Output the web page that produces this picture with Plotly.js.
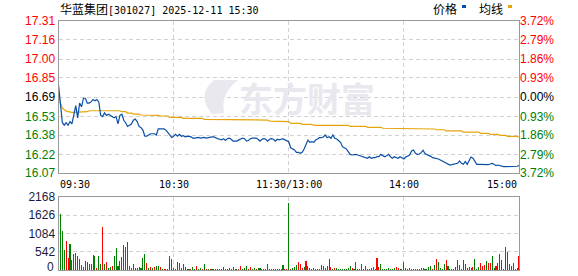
<!DOCTYPE html>
<html>
<head>
<meta charset="utf-8">
<script src="https://cdn.plot.ly/plotly-3.0.1.min.js"></script>
<style>html,body{margin:0;padding:0;background:#fff;overflow:hidden;}#chart{width:578px;height:276px;}</style>
</head>
<body>
<div id="chart"></div>
<script>
// ---- data ----
const stockName = "华蓝集团";
const stockCode = "[301027] 2025-12-11 15:30";
const prevClose = 16.69;
const timeLabels = ["09:30", "10:30", "11:30/13:00", "14:00", "15:00"];
const timeLabelMinutes = [0, 60, 120, 180, 240];
const priceTicks = [17.31, 17.16, 17.00, 16.85, 16.69, 16.53, 16.38, 16.22, 16.07];
const priceTickText = ["17.31", "17.16", "17.00", "16.85", "16.69", "16.53", "16.38", "16.22", "16.07"];
const pctTickText = ["3.72%", "2.79%", "1.86%", "0.93%", "0.00%", "0.93%", "1.86%", "2.79%", "3.72%"];
const tickSide = ["u", "u", "u", "u", "0", "d", "d", "d", "d"];
const volTicks = [0, 542, 1084, 1626, 2168];
const volTickText = ["0", "542", "1084", "1626", "2168"];

const price = [
16.79,16.60,16.48,16.46,16.48,16.46,16.49,16.47,16.55,16.62,
16.52,16.64,16.61,16.68,16.68,16.64,16.64,16.65,16.67,16.66,
16.67,16.65,16.54,16.53,16.56,16.54,16.55,16.54,16.53,16.52,
16.53,16.47,16.54,16.55,16.50,16.48,16.45,16.46,16.47,16.50,
16.51,16.49,16.45,16.44,16.42,16.37,16.37,16.38,16.39,16.39,
16.39,16.38,16.43,16.43,16.43,16.43,16.42,16.40,16.38,16.36,
16.37,16.385,16.37,16.385,16.37,16.375,16.365,16.37,16.37,16.365,
16.355,16.355,16.36,16.36,16.355,16.36,16.36,16.355,16.36,16.36,
16.365,16.365,16.355,16.35,16.345,16.34,16.35,16.335,16.35,16.355,
16.345,16.33,16.33,16.33,16.34,16.35,16.355,16.35,16.33,16.335,
16.35,16.355,16.355,16.355,16.345,16.33,16.345,16.35,16.345,16.33,
16.345,16.35,16.345,16.33,16.345,16.34,16.345,16.35,16.34,16.335,
16.325,16.276,16.27,16.258,16.239,16.239,16.231,16.239,16.266,16.30,
16.339,16.32,16.325,16.32,16.339,16.347,16.358,16.358,16.364,16.38,
16.358,16.366,16.353,16.38,16.353,16.347,16.331,16.32,16.285,16.276,
16.266,16.244,16.222,16.217,16.222,16.222,16.217,16.211,16.211,16.203,
16.195,16.19,16.203,16.19,16.195,16.195,16.203,16.203,16.222,16.211,
16.203,16.211,16.222,16.203,16.19,16.203,16.195,16.19,16.203,16.19,
16.184,16.20,16.211,16.217,16.25,16.258,16.231,16.222,16.225,16.236,
16.255,16.228,16.22,16.214,16.206,16.195,16.192,16.19,16.184,16.176,
16.168,16.157,16.149,16.141,16.135,16.138,16.143,16.149,16.149,16.168,
16.149,16.141,16.163,16.141,16.173,16.20,16.19,16.163,16.141,16.141,
16.141,16.141,16.141,16.135,16.138,16.143,16.149,16.141,16.13,16.135,
16.13,16.125,16.122,16.122,16.122,16.122,16.122,16.122,16.122,16.125,
16.13
];

const avgPrice = [
16.73,16.64,16.60,16.585,16.575,16.57,16.565,16.565,16.565,16.565,
16.565,16.57,16.57,16.57,16.57,16.57,16.578,16.578,16.578,16.578,
16.584,16.584,16.584,16.584,16.584,16.584,16.584,16.584,16.584,16.578,
16.578,16.578,16.578,16.57,16.57,16.57,16.559,16.559,16.559,16.551,
16.551,16.551,16.551,16.543,16.543,16.543,16.543,16.543,16.54,16.54,
16.54,16.54,16.54,16.535,16.535,16.535,16.535,16.535,16.524,16.524,
16.524,16.524,16.524,16.524,16.524,16.516,16.516,16.516,16.516,16.516,
16.516,16.516,16.516,16.516,16.516,16.516,16.508,16.508,16.508,16.508,
16.508,16.508,16.508,16.508,16.508,16.508,16.508,16.508,16.508,16.508,
16.508,16.508,16.502,16.502,16.502,16.502,16.502,16.502,16.502,16.502,
16.502,16.502,16.502,16.502,16.502,16.502,16.502,16.502,16.502,16.502,
16.494,16.494,16.494,16.494,16.494,16.494,16.494,16.494,16.494,16.494,
16.489,16.475,16.475,16.475,16.475,16.475,16.475,16.467,16.467,16.467,
16.467,16.467,16.467,16.459,16.459,16.459,16.459,16.459,16.459,16.459,
16.459,16.459,16.459,16.459,16.459,16.459,16.459,16.459,16.459,16.459,
16.459,16.459,16.451,16.451,16.451,16.451,16.451,16.451,16.451,16.451,
16.451,16.443,16.443,16.443,16.443,16.443,16.443,16.443,16.443,16.435,
16.435,16.435,16.435,16.435,16.435,16.435,16.435,16.435,16.435,16.435,
16.435,16.429,16.429,16.429,16.429,16.429,16.429,16.429,16.429,16.429,
16.429,16.429,16.429,16.429,16.429,16.429,16.429,16.423,16.423,16.423,
16.423,16.423,16.413,16.413,16.413,16.413,16.413,16.413,16.413,16.413,
16.413,16.404,16.404,16.404,16.404,16.404,16.404,16.404,16.404,16.404,
16.394,16.394,16.394,16.394,16.394,16.385,16.385,16.385,16.385,16.385,
16.377,16.377,16.377,16.377,16.369,16.369,16.369,16.369,16.369,16.369,
16.361
];

const volume = [
0,1650,1170,590,850,360,780,290,470,510,
410,320,150,80,260,230,180,180,440,410,
50,410,180,1270,180,240,50,80,120,410,
650,120,270,390,730,680,830,120,50,180,
50,50,80,50,370,470,220,50,80,50,
100,120,120,80,30,30,30,30,410,340,
50,30,250,220,50,180,80,30,30,30,
80,30,120,30,50,30,180,30,30,30,
30,30,30,30,30,30,80,30,30,50,
30,100,30,30,30,120,30,50,120,30,
80,30,50,30,50,50,30,30,30,180,
30,30,30,30,30,30,30,150,30,30,
2000,30,50,80,150,240,180,50,80,270,
120,50,30,50,30,30,30,150,120,50,
120,320,80,30,50,50,30,30,30,30,
30,60,120,50,30,240,30,30,180,30,
120,30,30,50,80,30,370,80,180,30,
30,30,50,30,30,50,100,50,30,30,
240,50,30,50,30,30,30,30,30,50,
50,30,30,80,120,30,150,330,230,50,
30,180,290,120,30,30,30,80,290,150,
30,290,180,50,80,50,80,320,30,80,
220,130,150,270,220,220,410,50,120,220,
470,290,30,680,540,180,120,220,30,50,
410
];

// u = minute closed up (red), d = down (green)
const volDir = [
'd','d','d','d','u','u','d','u','u','d',
'd','u','d','u','u','d','u','u','u','d',
'u','d','d','u','d','u','d','d','u','d',
'd','d','u','d','d','u','d','u','d','u',
'd','d','u','d','d','d','u','d','u','d',
'u','d','d','u','d','u','d','d','d','d',
'u','d','d','u','d','u','d','u','d','u',
'd','d','u','d','d','u','d','u','d','u',
'd','u','d','u','d','u','d','u','d','d',
'u','d','u','d','u','u','d','d','d','u',
'u','d','d','u','d','d','u','d','u','u',
'd','u','d','d','u','d','u','d','u','u',
'd','u','d','d','d','u','u','u','d','u',
'd','u','d','u','u','d','d','u','u','d',
'd','d','u','d','u','d','d','d','d','d',
'd','d','d','u','d','u','d','d','u','d',
'd','d','d','u','u','d','u','u','d','d',
'd','d','d','d','d','d','u','u','d','d',
'u','u','d','u','d','d','d','d','u','u',
'u','d','d','d','d','u','d','u','d','d',
'd','d','u','d','d','u','d','u','u','d',
'u','d','d','d','d','u','u','d','d','d',
'u','u','u','d','u','u','d','d','u','d',
'd','u','u','d','u','u','d','u','d','d',
'u'
];

// ---- styling ----
const UP = "#ff0000", DOWN = "#008000", FLAT = "#000000";
const minutes = price.map((_, i) => i);
const colorOf = s => s === "u" ? UP : (s === "d" ? DOWN : FLAT);
const span = (t, c) => '<span style="color:' + c + '">' + t + '</span>';

const W = 578, H = 276;
const px = v => v / W, py = v => (H - v) / H;
const xDom = [px(58.5), px(519)];
const gridC = "#d2d2d2", frameC = "#999999";
const numFont = {family: "Liberation Sans, Arial, sans-serif", size: 12, color: "#000"};
const volFont = {family: "Liberation Sans, Arial, sans-serif", size: 12, color: "#1a1a40"};
const monoFont = {family: "DejaVu Sans Mono, monospace", size: 10, color: "#000"};
const wmC = "#e8e8ee";

const traces = [
  {x: minutes, y: avgPrice, type: "scatter", mode: "lines", xaxis: "x", yaxis: "y",
   line: {color: "#e5a50a", width: 1.2, shape: "linear"}, hoverinfo: "skip"},
  {x: minutes, y: price, type: "scatter", mode: "lines", xaxis: "x", yaxis: "y",
   line: {color: "#0a4fa6", width: 1.2}, hoverinfo: "skip"},
  {x: [minutes[0]], y: [prevClose], type: "scatter", mode: "markers", xaxis: "x", yaxis: "y3",
   marker: {opacity: 0}, hoverinfo: "skip"},
  {x: minutes, y: volume, type: "bar", xaxis: "x2", yaxis: "y2", width: 0.55,
   marker: {color: volDir.map(colorOf), line: {width: 0}}, hoverinfo: "skip"}
];

const layout = {
  width: W, height: H,
  margin: {l: 0, r: 0, t: 0, b: 0},
  paper_bgcolor: "#fff", plot_bgcolor: "rgba(0,0,0,0)",
  showlegend: false, bargap: 0,
  xaxis: {domain: xDom, range: [0, 240], anchor: "y", tickvals: [60, 120, 180],
    showticklabels: false, ticks: "", showgrid: true, gridcolor: gridC, griddash: "4px,3px",
    gridwidth: 1, zeroline: false, showline: true, mirror: true, linecolor: frameC, linewidth: 1},
  yaxis: {domain: [py(173), py(21)], range: [priceTicks[8], priceTicks[0]], anchor: "x",
    tickvals: priceTicks, ticktext: priceTickText.map((t, i) => span(t, colorOf(tickSide[i]))),
    ticks: "", tickfont: numFont, showgrid: true, gridcolor: gridC, griddash: "4px,3px",
    zeroline: false, showline: true, mirror: true, linecolor: frameC, linewidth: 1,
    ticklabeloverflow: "allow"},
  yaxis3: {overlaying: "y", side: "right", anchor: "x", range: [priceTicks[8], priceTicks[0]],
    tickvals: priceTicks, ticktext: pctTickText.map((t, i) => span(t, colorOf(tickSide[i]))),
    ticks: "", tickfont: numFont, showgrid: false, zeroline: false, showline: false,
    ticklabeloverflow: "allow"},
  xaxis2: {domain: xDom, range: [0, 240], anchor: "y2", tickvals: [60, 120, 180],
    showticklabels: false, ticks: "", showgrid: true, gridcolor: gridC, griddash: "4px,3px",
    zeroline: false, showline: true, mirror: true, linecolor: frameC, linewidth: 1},
  yaxis2: {domain: [py(270), py(197)], range: [volTicks[0], volTicks[4]], anchor: "x2",
    tickvals: volTicks.slice(1), ticktext: volTickText.slice(1), ticks: "", tickfont: volFont,
    showgrid: true, gridcolor: gridC, griddash: "4px,3px", ticklabeloverflow: "allow",
    zeroline: false, showline: true, mirror: true, linecolor: frameC, linewidth: 1},
  annotations: [
    {xref: "paper", yref: "paper", x: px(58), y: py(8.5), xanchor: "left", yanchor: "middle", showarrow: false,
     text: '<span style="font-family:Noto Sans CJK SC;font-size:12px">' + stockName + '</span>' + stockCode, font: monoFont},
    {xref: "paper", yref: "paper", x: px(431), y: py(8.5), xanchor: "left", yanchor: "middle", showarrow: false,
     text: "价格", font: {family: "Noto Sans CJK SC", size: 12, color: "#000"}},
    {xref: "paper", yref: "paper", x: px(477), y: py(8.5), xanchor: "left", yanchor: "middle", showarrow: false,
     text: "均线", font: {family: "Noto Sans CJK SC", size: 12, color: "#000"}},
    {xref: "paper", yref: "paper", x: px(307), y: py(97), xanchor: "center", yanchor: "middle", showarrow: false,
     text: "<b>东方财富</b>", font: {family: "Noto Sans CJK SC", size: 34, color: wmC}},
    {xref: "paper", yref: "paper", x: px(56), y: py(267), xanchor: "right", yanchor: "middle", showarrow: false,
     text: "<span>" + volTickText[0] + "</span>", font: {family: "Liberation Sans, Arial, sans-serif", size: 12, color: "#1a1a40"}}
  ].concat(timeLabels.map((t, i) => ({
     xref: "x", yref: "paper", x: timeLabelMinutes[i], y: py(184),
     xanchor: i === 0 ? "left" : (i === timeLabels.length - 1 ? "right" : "center"),
     yanchor: "middle", showarrow: false, text: t, font: monoFont, xshift: i === 0 ? -1 : 0}))),
  shapes: [
    {type: "rect", xref: "paper", yref: "paper", x0: px(462), x1: px(466), y0: py(8), y1: py(5),
     fillcolor: "#0a4fa6", line: {width: 0}},
    {type: "rect", xref: "paper", yref: "paper", x0: px(508), x1: px(512), y0: py(8), y1: py(5),
     fillcolor: "#e5a50a", line: {width: 0}},
    // watermark logo (decorative)
    {type: "path", xref: "paper", yref: "paper", layer: "above", fillcolor: wmC, line: {width: 0},
     path: "M " + px(212) + "," + py(114) + " Q " + px(196) + "," + py(95) + " " + px(214) + "," + py(80) +
           " L " + px(238) + "," + py(80) + " Q " + px(220) + "," + py(94) + " " + px(224) + "," + py(113) + " Z"}
  ]
};

Plotly.newPlot("chart", traces, layout, {staticPlot: true, displayModeBar: false});
</script>
</body>
</html>
